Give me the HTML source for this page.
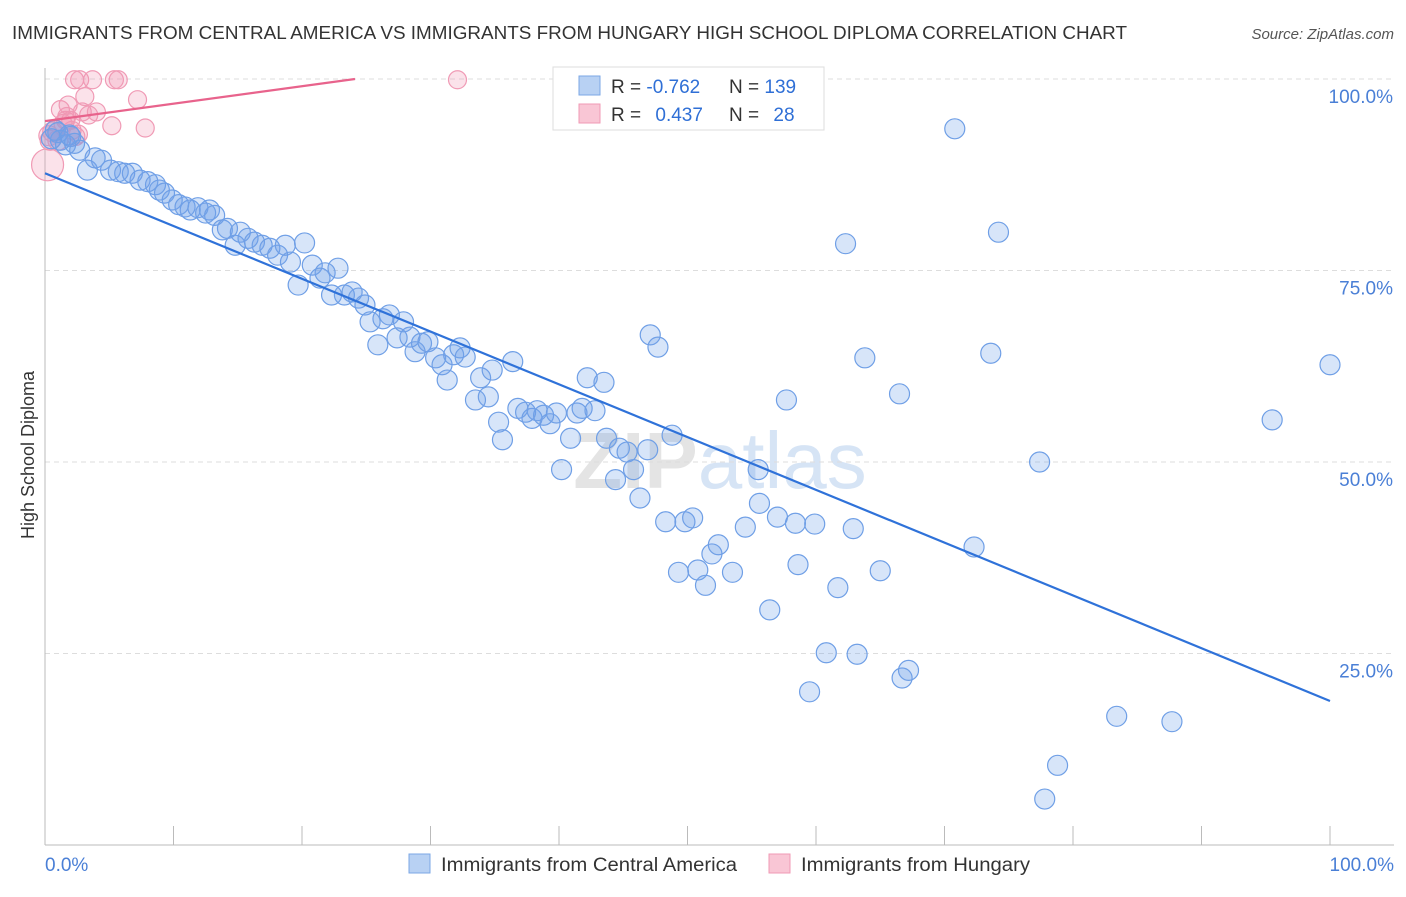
<!DOCTYPE html>
<html><head><meta charset="utf-8"><style>
body{margin:0;background:#fff;font-family:"Liberation Sans",sans-serif}
svg text{font-family:"Liberation Sans",sans-serif}
</style></head><body>
<svg id="chart" width="1406" height="892">
<text x="12" y="39" font-size="18" fill="#333" textLength="1115" lengthAdjust="spacingAndGlyphs">IMMIGRANTS FROM CENTRAL AMERICA VS IMMIGRANTS FROM HUNGARY HIGH SCHOOL DIPLOMA CORRELATION CHART</text>
<text x="1394" y="39" font-size="15" fill="#555" font-style="italic" text-anchor="end">Source: ZipAtlas.com</text>
<text x="720" y="488" font-size="80" fill="#e4e4e4" text-anchor="middle" font-weight="bold">ZIP<tspan fill="#d6e4f5" font-weight="normal">atlas</tspan></text>
<g id="grid"></g><g id="axes"></g><g id="pink"></g><g id="blue"></g><g id="lines"></g>
<g>
<rect x="553" y="67" width="271" height="63" fill="#fff" stroke="#ddd"/>
<rect x="579" y="76" width="21" height="19" fill="#b8d1f3" stroke="#7ba7e6"/>
<rect x="579" y="104" width="21" height="19" fill="#f9c6d5" stroke="#f09ab5"/>
<text x="611" y="93" font-size="19" fill="#333">R = <tspan fill="#2f6fd6">-0.762</tspan></text>
<text x="729" y="93" font-size="19" fill="#333">N = <tspan fill="#2f6fd6">139</tspan></text>
<text x="611" y="121" font-size="19" fill="#333">R = <tspan fill="#2f6fd6" dx="9">0.437</tspan></text>
<text x="729" y="121" font-size="19" fill="#333">N = <tspan fill="#2f6fd6" dx="9">28</tspan></text>
</g>
<g>
<rect x="409" y="854" width="21" height="19" fill="#b8d1f3" stroke="#7ba7e6"/>
<text x="441" y="871" font-size="19" fill="#333" textLength="296" lengthAdjust="spacingAndGlyphs">Immigrants from Central America</text>
<rect x="769" y="854" width="21" height="19" fill="#f9c6d5" stroke="#f09ab5"/>
<text x="801" y="871" font-size="19" fill="#333" textLength="229" lengthAdjust="spacingAndGlyphs">Immigrants from Hungary</text>
</g>
<text x="45" y="871" font-size="19" fill="#4a7fd6">0.0%</text>
<text x="1394" y="871" font-size="19" fill="#4a7fd6" text-anchor="end">100.0%</text>
<text transform="translate(34,455) rotate(-90)" font-size="18" fill="#333" text-anchor="middle">High School Diploma</text>
</svg>
<script>
const blueX=[0.8,1.2,1.6,1.9,2.3,2.7,3.3,3.9,4.4,5.1,5.7,6.2,6.8,7.4,8.0,8.6,8.9,9.3,9.9,10.4,10.9,11.3,11.9,12.5,12.8,13.2,13.8,14.2,14.8,15.2,15.8,16.3,16.9,17.5,18.1,18.7,19.1,19.7,20.2,20.8,21.4,21.8,22.3,22.8,23.3,23.9,24.4,24.9,25.3,25.9,26.3,26.8,27.4,27.9,28.4,28.8,29.3,29.8,30.4,30.9,31.3,31.8,32.3,32.7,33.5,33.9,34.5,34.8,35.3,35.6,36.4,36.8,37.4,37.9,38.3,38.8,39.3,39.8,40.2,40.9,41.4,41.8,42.2,42.8,43.5,43.7,44.4,44.7,45.3,45.8,46.3,46.9,47.1,47.7,48.3,48.8,49.3,49.8,50.4,50.8,51.4,51.9,52.4,53.5,54.5,55.5,55.6,56.4,57.0,57.7,58.4,58.6,59.5,59.9,60.8,61.7,62.3,62.9,63.2,63.8,65.0,66.5,66.7,67.2,70.8,72.3,73.6,74.2,77.4,77.8,78.8,83.4,87.7,95.5,100,54.5,1.0,2.0,0.5];
const blueY=[93.3,92.0,91.4,92.7,91.6,90.7,88.1,89.7,89.4,88.1,87.9,87.7,87.7,86.8,86.6,86.2,85.5,85.1,84.2,83.6,83.3,82.9,83.2,82.5,82.9,82.2,80.3,80.5,78.3,80.0,79.2,78.7,78.3,77.9,77.0,78.3,76.1,73.1,78.6,75.7,74.0,74.7,71.8,75.3,71.8,72.2,71.4,70.5,68.3,65.3,68.7,69.2,66.2,68.3,66.3,64.4,65.5,65.7,63.6,62.7,60.7,64.0,64.9,63.7,58.1,61.0,58.5,62.0,55.2,52.9,63.1,57.0,56.5,55.7,56.7,56.1,55.0,56.4,49.0,53.1,56.4,57.0,61.0,56.7,60.4,53.1,47.7,51.8,51.3,49.0,45.3,51.6,66.6,65.0,42.2,53.5,35.6,42.2,42.7,35.9,33.9,38.0,39.2,35.6,41.5,49.0,44.6,30.7,42.8,58.1,42.0,36.6,20.0,41.9,25.1,33.6,78.5,41.3,24.9,63.6,35.8,58.9,21.8,22.8,93.5,38.9,64.2,80.0,50.0,6.0,10.4,16.8,16.1,55.5,62.7,99.9,93.0,92.5,92.2];
const pinkX=[0.2,0.4,0.8,1.2,1.6,1.8,2.1,2.3,2.7,2.9,3.1,3.4,3.7,4.0,5.2,5.4,5.7,7.2,7.8,32.1,2.0,1.0,2.4,1.4,0.6,1.7,0.3,2.6];
const pinkY=[88.8,92.0,93.3,96.0,94.6,96.6,93.3,99.9,99.9,95.7,97.7,95.3,99.9,95.7,93.9,99.9,99.9,97.3,93.6,99.9,94.6,92.0,92.5,94.2,93.1,95.1,92.6,92.8];
const pinkR=[16,10,10,9,9,9,9,9,9,9,9,9,9,9,9,9,9,9,9,9,9,10,9,9,10,9,10,9];
const blueFit=[87.7,18.8];
const pinkFit=[94.5,117.3];
const xTicks=[0,10,20,30,40,50,60,70,80,90,100];
const yTicks=[25,50,75,100];
const yTickLabels=["25.0%","50.0%","75.0%","100.0%"];
const NS="http://www.w3.org/2000/svg";
const X=v=>45+v*12.85, Y=v=>845-v*7.66;
function mk(t,a,p){const e=document.createElementNS(NS,t);for(const k in a)e.setAttribute(k,a[k]);document.getElementById(p).appendChild(e);return e;}
yTicks.forEach((t,i)=>{
 const g=mk('line',{x1:45,x2:1394,y1:Y(t),y2:Y(t),stroke:'#ddd','stroke-dasharray':'5,4'},'grid');
 
 
 const tx=mk('text',{x:1393,y:Y(t)+24,'font-size':19,fill:'#4a7fd6','text-anchor':'end'},'grid');
 tx.textContent=yTickLabels[i];
 
 
});
const ax=mk('line',{x1:45,x2:45,y1:68,y2:845,stroke:'#bbb'},'axes');


const bx=mk('line',{x1:45,x2:1394,y1:845,y2:845,stroke:'#bbb'},'axes');


xTicks.forEach(t=>{const l=mk('line',{x1:X(t),x2:X(t),y1:826,y2:845,stroke:'#bbb'},'axes');
 
 });
pinkX.forEach((v,i)=>{const c=mk('circle',{cx:X(v),cy:Y(pinkY[i]),r:pinkR[i],fill:'rgba(242,150,180,0.28)',stroke:'#f09ab5','stroke-width':1.2},'pink');
 
 });
blueX.forEach((v,i)=>{const c=mk('circle',{cx:X(v),cy:Y(blueY[i]),r:10,fill:'rgba(110,160,232,0.28)',stroke:'#6f9fe6','stroke-width':1.2},'blue');
 
 });
const bl=mk('line',{x1:X(0),y1:Y(blueFit[0]),x2:X(100),y2:Y(blueFit[1]),stroke:'#2f72d9','stroke-width':2.2},'lines');


const slope=(pinkFit[1]-pinkFit[0])/100, xe=Math.min(100,(100-pinkFit[0])/slope);
const pl=mk('line',{x1:X(0),y1:Y(pinkFit[0]),x2:X(xe),y2:Y(pinkFit[0]+slope*xe),stroke:'#e8638c','stroke-width':2.2},'lines');


</script>
</body></html>
